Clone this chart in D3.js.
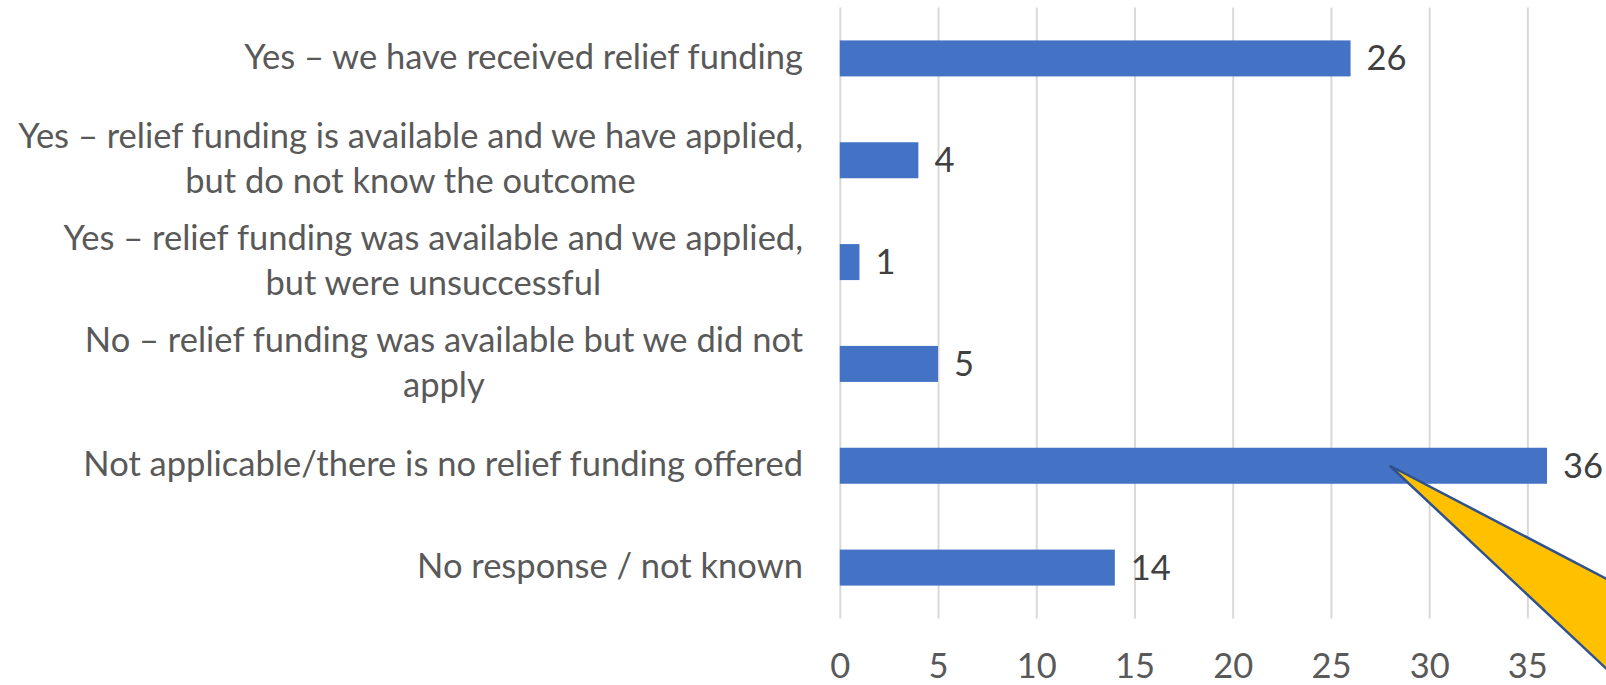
<!DOCTYPE html>
<html>
<head>
<meta charset="utf-8">
<script src="https://cdn.jsdelivr.net/npm/d3@7"></script>
<style>
  html, body { margin: 0; padding: 0; background: #ffffff; overflow: hidden; }
  svg { display: block; }
  text { font-family: Lato, "Noto Sans", sans-serif; }
</style>
</head>
<body>
<svg id="chart" width="1606" height="685"></svg>
<script>
// Survey answers: has relief funding been received?
const categories = [
  ["Yes \u2013 we have received relief funding"],
  ["Yes \u2013 relief funding is available and we have applied,", "but do not know the outcome"],
  ["Yes \u2013 relief funding was available and we applied,", "but were unsuccessful"],
  ["No \u2013 relief funding was available but we did not", "apply"],
  ["Not applicable/there is no relief funding offered"],
  ["No response / not known"]
];
const counts = [26, 4, 1, 5, 36, 14];
const tickValues = [0, 5, 10, 15, 20, 25, 30, 35];

// Highlight wedge pointing at the "Not applicable" bar (tip in data units, spread in px)
const calloutTip = { category: 4, value: 28 };
const calloutSpread = [[0, 0], [320, 167], [320, 300]];

const svg = d3.select("#chart");
const plot = { left: 839.8, right: 1625.6, top: 7.5, bottom: 618.5 };
const labelRight = 803;
const fontSize = 34.5;

const keys = categories.map((c, i) => i);
const x = d3.scaleLinear().domain([0, 40]).range([plot.left, plot.right]);
const y = d3.scaleBand().domain(keys).range([plot.top, plot.bottom])
  .paddingInner(0.6465).paddingOuter(0.6465 / 2);

// vertical gridlines
const grid = svg.append("g")
  .attr("transform", `translate(0,${plot.bottom})`)
  .call(d3.axisBottom(x).tickValues(tickValues).tickSize(-(plot.bottom - plot.top)).tickFormat(""));
grid.select(".domain").remove();
grid.selectAll(".tick line").attr("stroke", "#d9d9d9").attr("stroke-width", 2);

// x tick labels
const xAxis = svg.append("g")
  .attr("transform", `translate(0,${plot.bottom})`)
  .call(d3.axisBottom(x).tickValues(tickValues).tickSize(0).tickPadding(0));
xAxis.select(".domain").remove();
xAxis.selectAll(".tick text")
  .attr("y", 59)
  .attr("dy", null)
  .attr("fill", "#595959")
  .style("font-size", fontSize + "px");

// bars
svg.append("g").selectAll("rect")
  .data(counts)
  .join("rect")
  .attr("x", x(0))
  .attr("y", (d, i) => y(i))
  .attr("width", d => x(d) - x(0))
  .attr("height", y.bandwidth())
  .attr("fill", "#4472c4");

// value labels
svg.append("g").selectAll("text")
  .data(counts)
  .join("text")
  .attr("x", d => x(d) + 16)
  .attr("y", (d, i) => y(i) + y.bandwidth() / 2 + 12)
  .attr("fill", "#404040")
  .style("font-size", fontSize + "px")
  .text(d => d);

// category labels (multi-line blocks are centred on their widest line)
const lineGap = 45;
const labelG = svg.append("g");
categories.forEach((lines, i) => {
  const cy = y(i) + y.bandwidth() / 2 + 10.5;
  const t = labelG.append("text")
    .attr("fill", "#595959")
    .style("font-size", fontSize + "px")
    .attr("text-anchor", "middle");
  const spans = lines.map((ln, k) => t.append("tspan")
    .attr("y", cy + (k - (lines.length - 1) / 2) * lineGap)
    .text(ln));
  const maxW = d3.max(spans, s => s.node().getComputedTextLength());
  spans.forEach(s => s.attr("x", labelRight - maxW / 2));
});

// callout wedge
const tipX = x(calloutTip.value);
const tipY = y(calloutTip.category) + y.bandwidth() / 2;
svg.append("polygon")
  .attr("points", calloutSpread.map(p => [tipX + p[0], tipY + p[1]].join(",")).join(" "))
  .attr("fill", "#ffc000")
  .attr("stroke", "#2f528f")
  .attr("stroke-width", 2.5)
  .attr("stroke-linejoin", "miter");
</script>
</body>
</html>
